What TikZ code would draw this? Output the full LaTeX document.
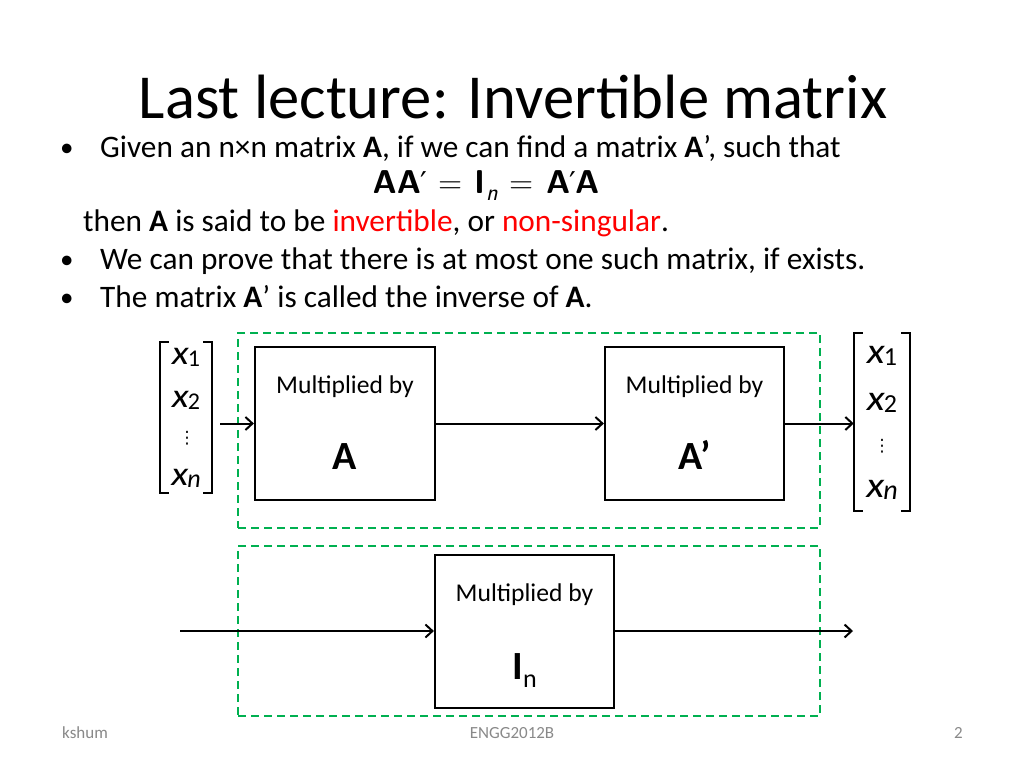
\documentclass[tikz,border=0pt]{standalone}
\usepackage{fontspec}
\setmainfont{Carlito}
\newfontfamily\dvfont{DejaVu Sans}
\usetikzlibrary{arrows.meta}
\definecolor{dgreen}{HTML}{00B050}
\definecolor{footgrey}{HTML}{898989}
\definecolor{hired}{HTML}{FF0000}
\newcommand{\vent}[3]{{\fontsize{#2}{#2}\selectfont\itshape\scalebox{1.15}[1]{x}}\kern-1pt\raisebox{-0.2em}{\fontsize{#3}{#3}\selectfont #1}}
\newcommand{\prm}{{\mdseries\dvfont\fontsize{30}{30}\selectfont\kern-1pt ′\kern-1pt}}
\begin{document}
\begin{tikzpicture}[x=1pt,y=-1pt,
  txt/.style={anchor=base west, inner sep=0pt, font=\fontsize{31.3}{36}\selectfont},
  bul/.style={anchor=base west, inner sep=0pt, font=\fontsize{27}{36}\selectfont},
  title/.style={anchor=base, inner sep=0pt, font=\fontsize{62.6}{75}\selectfont},
  foot/.style={inner sep=0pt, text=footgrey, font=\fontsize{17}{20}\selectfont},
  box/.style={draw, line width=2.2pt, inner sep=0pt},
  grp/.style={draw=dgreen, line width=2.2pt, dash pattern=on 8pt off 5pt, inner sep=0pt},
  lbl/.style={anchor=base, inner sep=0pt, font=\fontsize{25.6}{30}\selectfont},
  big/.style={anchor=base, inner sep=0pt, font=\fontsize{40}{48}\selectfont\bfseries},
  ar/.style={-{Straight Barb[length=7pt,width=13pt,line width=2pt]}, line width=2pt},
  brk/.style={line width=2pt},
  vec/.style={inner sep=0pt},
  ent/.style={inner sep=0pt},
  dts/.style={inner sep=0pt, font=\dvfont\fontsize{17}{17}\selectfont}
]
\useasboundingbox[fill=white] (0,0) rectangle (1024,768);

% title
\node[title] (ttl) at (513,118) {Last lecture: Invertible matrix};

% bullets
\node[bul] (b1) at (60,156) {•};
\node[txt] (l1) at (100,157) {Given an n×n matrix \textbf{A}, if we can find a matrix \textbf{A}’, such that};
\node[anchor=base, inner sep=0pt, font=\fontsize{33}{38}\selectfont\sffamily\bfseries] (eq) at (486,193)
  {AA\prm\ {\mdseries=} I\kern1pt\raisebox{-0.22em}{\fontsize{24}{24}\selectfont\mdseries\itshape n} {\mdseries=} A\prm A};
\node[txt] (l2) at (83,231) {then \textbf{A} is said to be \textcolor{hired}{invertible}, or \textcolor{hired}{non-singular}.};
\node[bul] (b2) at (60,268) {•};
\node[txt] (l3) at (100,269) {We can prove that there is at most one such matrix, if exists.};
\node[bul] (b3) at (60,306) {•};
\node[txt] (l4) at (100,307) {The matrix \textbf{A}’ is called the inverse of \textbf{A}.};

% green groups
\node[grp, minimum width=582pt, minimum height=195pt] (g1) at (529,430.5) {};
\node[grp, minimum width=582pt, minimum height=170pt] (g2) at (529,631) {};

% boxes
\node[box, minimum width=180pt, minimum height=153pt] (A) at (345,423.5) {};
\node[box, minimum width=179pt, minimum height=153pt] (Ap) at (694.5,423.5) {};
\node[box, minimum width=179pt, minimum height=153pt] (In) at (524.5,631.5) {};

\node[lbl] (tA) at (345,393) {Multiplied by};
\node[big] (sA) at (345,469) {A};
\node[lbl] (tAp) at (694.5,393) {Multiplied by};
\node[big] (sAp) at (694.5,469) {A’};
\node[lbl] (tIn) at (524.5,601) {Multiplied by};
\node[anchor=base, inner sep=0pt, font=\fontsize{40}{48}\selectfont] (sIn) at (524.5,679)
  {\textbf{I}\raisebox{-0.22em}{\fontsize{26}{26}\selectfont n}};

% left vector
\node[vec, minimum width=52pt, minimum height=151pt] (vL) at (186,417.5) {};
\draw[brk] ([xshift=9pt]vL.north west) -- (vL.north west) -- (vL.south west) -- ([xshift=9pt]vL.south west);
\draw[brk] ([xshift=-9pt]vL.north east) -- (vL.north east) -- (vL.south east) -- ([xshift=-9pt]vL.south east);
\node[ent] (vL1) at (186,357) {\vent{1}{34}{24}};
\node[ent] (vL2) at (186,400) {\vent{2}{34}{24}};
\node[dts] (vL3) at (187,438) {⋮};
\node[ent] (vLn) at (186,478) {\vent{\itshape n}{34}{26}};

% right vector
\node[vec, minimum width=56pt, minimum height=177pt] (vR) at (882,422) {};
\draw[brk] ([xshift=9pt]vR.north west) -- (vR.north west) -- (vR.south west) -- ([xshift=9pt]vR.south west);
\draw[brk] ([xshift=-9pt]vR.north east) -- (vR.north east) -- (vR.south east) -- ([xshift=-9pt]vR.south east);
\node[ent] (vR1) at (882,356) {\vent{1}{36}{26}};
\node[ent] (vR2) at (882,403) {\vent{2}{36}{26}};
\node[dts] (vR3) at (882,446) {⋮};
\node[ent] (vRn) at (882,490) {\vent{\itshape n}{36}{28}};

% connectors
\draw[ar, shorten <=8pt] (vL.east |- A.west) -- (A.west);
\draw[ar] (A.east) -- (Ap.west);
\draw[ar] (Ap.east) -- (vR.west |- Ap.east);
\coordinate (inL) at (180,631);
\coordinate (outR) at (853,631);
\draw[ar] (inL) -- (inL -| In.west);
\draw[ar] (In.east |- outR) -- (outR);

% footer
\node[foot, anchor=west] (fk) at (62,733) {kshum};
\node[foot] (fc) at (512,733) {ENGG2012B};
\node[foot, anchor=east] (fn) at (963,733) {2};
\end{tikzpicture}
\end{document}
